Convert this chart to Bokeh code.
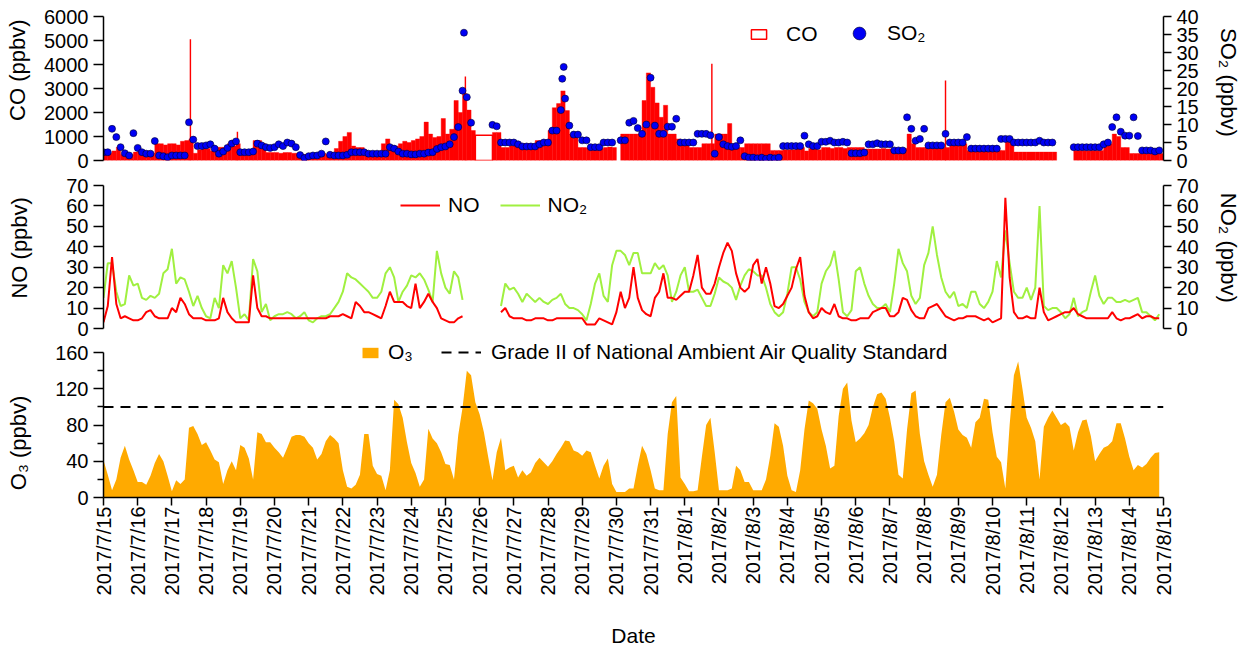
import math
import pandas as pd
from bokeh.plotting import figure
from bokeh.layouts import column
from bokeh.models import (Range1d, LinearAxis, FixedTicker, Legend, LegendItem,
                          ColumnDataSource)
from bokeh.embed import file_html
from bokeh.resources import INLINE

nan = float("nan")

# ---------------------------------------------------------------------------
# Data: 3-hourly values, 2017-07-15 00:00 to 2017-08-14 21:00 (8 values a day)
# ---------------------------------------------------------------------------
START = pd.Timestamp("2017-07-15")
END = pd.Timestamp("2017-08-15")
times = pd.date_range(START, periods=248, freq="3h")

co = [  # ppbv
    300, 300, 400, 550, 250, 200, 250, 350,      # 7/15
    400, 400, 400, 300, 700, 700, 650, 700,      # 7/16
    700, 650, 800, 830, 900, 300, 450, 500,      # 7/17
    500, 400, 550, 550, 540, 700, 600, 700,      # 7/18
    400, 400, 400, 830, 830, 700, 330, 330,      # 7/19
    330, 300, 330, 330, 300, 300, 250, 250,      # 7/20
    200, 250, 250, 300, 250, 300, 500, 800,      # 7/21
    1000, 1170, 600, 540, 540, 400, 330, 330,    # 7/22
    350, 700, 900, 500, 600, 700, 800, 750,      # 7/23
    830, 900, 1000, 1600, 1100, 960, 1000, 1750,  # 7/24
    1100, 1300, 2500, 2000, 2780, 2100, 1250, nan,  # 7/25
    nan, nan, nan, 1170, 1170, 540, 540, 600,    # 7/26
    700, 700, 700, 700, 650, 830, 830, 800,      # 7/27
    1250, 2200, 2370, 2900, 2080, 1100, 1000, 540,  # 7/28
    540, 520, 540, 540, 500, 540, 560, 540,      # 7/29
    nan, 1100, 1100, 1100, 1100, 1100, 2500, 3650,  # 7/30
    3050, 2400, 1800, 2300, 1100, 1100, 900, 830,  # 7/31
    830, 540, 540, 540, 700, 700, 700, 1100,     # 8/1
    1100, 1100, 1540, 540, 540, 540, 700, 700,   # 8/2
    700, 700, 700, 700, 420, 420, 420, 450,      # 8/3
    450, 450, 540, 540, 400, 500, 540, 450,      # 8/4
    540, 540, 500, 540, 540, 500, 540, 540,      # 8/5
    540, 540, 480, 480, 480, 480, 500, 480,      # 8/6
    480, 450, 480, 500, 1100, 700, 540, 540,     # 8/7
    540, 540, 540, 540, 540, 540, 700, 700,      # 8/8
    700, 700, 420, 420, 420, 420, 420, 420,      # 8/9
    420, 420, 420, 830, 830, 350, 350, 350,      # 8/10
    350, 350, 350, 350, 350, 350, 350, nan,      # 8/11
    nan, nan, nan, 420, 420, 420, 420, 420,      # 8/12
    420, 420, 700, 700, 1100, 1000, 540, 540,    # 8/13
    290, 290, 290, 290, 290, 290, 290, 290,      # 8/14
]

# single-hour CO peaks
co_peak_time = ["2017-07-17 13:00", "2017-07-18 22:00", "2017-07-25 14:00",
                "2017-08-01 19:00", "2017-08-08 15:00"]
co_peak_value = [5050, 1200, 3500, 4030, 3330]

# period with an averaged CO value only (drawn as an open bar)
co_avg_start = "2017-07-25 21:00"
co_avg_end = "2017-07-26 09:00"
co_avg_value = 1050

so2 = [  # ppbv
    2.3, 2.3, 8.8, 6.5, 3.7, 2.0, 1.4, 7.6,      # 7/15
    3.5, 2.3, 1.9, 1.9, 5.4, 1.4, 1.2, 0.9,      # 7/16
    1.4, 1.4, 1.4, 1.4, 10.6, 5.8, 4.0, 4.0,     # 7/17
    4.2, 4.5, 3.3, 1.9, 2.5, 3.5, 4.7, 5.3,      # 7/18
    2.3, 2.3, 2.3, 2.5, 4.7, 4.2, 3.7, 3.5,      # 7/19
    3.7, 4.5, 4.0, 5.0, 4.7, 3.7, 1.5, 0.7,      # 7/20
    1.2, 1.4, 1.4, 1.9, 5.3, 1.6, 1.4, 1.4,      # 7/21
    1.4, 1.6, 2.3, 2.3, 2.3, 2.3, 1.9, 1.9,      # 7/22
    1.9, 1.9, 1.9, 3.7, 3.3, 2.5, 1.9, 1.9,      # 7/23
    1.7, 1.7, 1.9, 1.9, 2.2, 2.3, 3.2, 3.7,      # 7/24
    3.9, 4.5, 6.5, 9.3, 19.4, 17.6, 10.5, nan,   # 7/25
    nan, nan, nan, 9.9, 9.5, 5.0, 5.0, 5.0,      # 7/26
    5.0, 4.5, 3.9, 3.9, 3.9, 3.9, 4.5, 5.0,      # 7/27
    5.0, 8.3, 8.3, 14.0, 17.2, 9.7, 7.2, 7.2,    # 7/28
    5.6, 5.6, 3.7, 3.7, 3.7, 5.0, 5.0, 5.0,      # 7/29
    nan, 5.6, 5.6, 10.5, 11.0, 9.0, 7.4, 10.0,   # 7/30
    23.0, 9.7, 7.4, 7.4, 9.4, 9.4, 11.6, 5.0,    # 7/31
    5.0, 5.0, 5.0, 7.4, 7.4, 7.4, 7.0, 1.9,      # 8/1
    6.5, 4.5, 4.0, 3.8, 4.0, 5.6, 1.2, 0.8,      # 8/2
    0.8, 0.6, 0.8, 0.5, 0.8, 0.6, 0.8, 4.0,      # 8/3
    4.0, 4.0, 4.0, 4.0, 6.9, 4.5, 4.0, 4.0,      # 8/4
    5.2, 5.2, 5.5, 5.0, 5.0, 5.2, 5.0, 2.0,      # 8/5
    2.0, 2.0, 2.2, 4.5, 4.5, 4.8, 4.5, 4.5,      # 8/6
    4.5, 2.8, 2.8, 2.8, 12.0, 8.8, 5.5, 6.0,     # 8/7
    8.8, 4.2, 4.2, 4.2, 4.2, 7.4, 5.0, 5.0,      # 8/8
    5.0, 5.0, 6.5, 3.3, 3.3, 3.3, 3.3, 3.3,      # 8/9
    3.3, 3.3, 6.0, 6.0, 6.0, 5.0, 5.0, 5.0,      # 8/10
    5.0, 5.0, 5.0, 5.5, 5.0, 5.0, 5.0, nan,      # 8/11
    nan, nan, nan, 3.7, 3.7, 3.7, 3.7, 3.7,      # 8/12
    3.7, 3.7, 4.5, 5.0, 9.3, 12.0, 8.0, 6.9,     # 8/13
    6.9, 12.0, 6.8, 2.8, 2.8, 2.8, 2.5, 2.8,     # 8/14
]

# single-hour SO2 peaks
so2_peak_time = ["2017-07-25 13:00", "2017-07-28 10:00", "2017-07-28 11:00"]
so2_peak_value = [35.5, 22.7, 26.0]

no = [  # ppbv
    3, 11, 35, 12, 5, 6, 5, 4,          # 7/15
    4, 5, 8, 9, 6, 5, 5, 5,             # 7/16
    10, 8, 15, 12, 7, 5, 5, 5,          # 7/17
    4, 4, 4, 5, 15, 8, 5, 3,            # 7/18
    3, 3, 3, 26, 10, 6, 6, 5,           # 7/19
    5, 5, 5, 5, 5, 5, 5, 5,             # 7/20
    5, 5, 5, 5, 5, 6, 6, 6,             # 7/21
    7, 6, 5, 13, 11, 8, 8, 7,           # 7/22
    6, 5, 11, 18, 13, 13, 13, 11,       # 7/23
    10, 22, 10, 13, 17, 13, 10, 5,      # 7/24
    4, 3, 3, 5, 6, nan, nan, nan,       # 7/25
    nan, nan, nan, nan, nan, 8, 10, 6,  # 7/26
    5, 5, 5, 4, 4, 5, 5, 5,             # 7/27
    4, 4, 5, 5, 5, 5, 5, 5,             # 7/28
    5, 2, 2, 2, 5, 4, 3, 2,             # 7/29
    8, 18, 10, 15, 30, 15, 9, 7,        # 7/30
    6, 15, 18, 27, 15, 15, 14, 16,      # 7/31
    18, 18, 26, 36, 20, 17, 17, 22,     # 8/1
    30, 37, 42, 38, 27, 20, 18, 20,     # 8/2
    31, 34, 22, 30, 22, 11, 10, 12,     # 8/3
    16, 20, 29, 35, 16, 8, 5, 6,        # 8/4
    10, 8, 7, 12, 6, 5, 5, 4,           # 8/5
    4, 5, 5, 5, 8, 9, 10, 10,           # 8/6
    6, 6, 8, 15, 14, 9, 6, 5,           # 8/7
    5, 10, 11, 12, 9, 6, 5, 4,          # 8/8
    5, 5, 6, 6, 6, 5, 4, 5,             # 8/9
    3, 4, 5, 64, 25, 8, 5, 5,           # 8/10
    6, 5, 5, 20, 8, 4, 5, 6,            # 8/11
    7, 8, 8, 10, 7, 6, 5, 5,            # 8/12
    5, 5, 5, 5, 8, 5, 4, 5,             # 8/13
    5, 6, 7, 5, 6, 6, 5, 5,             # 8/14
]

no2 = [  # ppbv
    15, 32, 32, 18, 11, 12, 26, 21,     # 7/15
    22, 15, 14, 16, 15, 17, 27, 29,     # 7/16
    39, 22, 25, 24, 18, 11, 16, 10,     # 7/17
    6, 5, 15, 10, 31, 27, 33, 20,       # 7/18
    5, 7, 4, 34, 28, 8, 12, 4,          # 7/19
    6, 7, 7, 8, 7, 5, 6, 8,             # 7/20
    4, 3, 5, 6, 6, 7, 10, 13,           # 7/21
    18, 27, 25, 24, 22, 20, 18, 15,     # 7/22
    15, 18, 27, 30, 25, 13, 18, 21,     # 7/23
    26, 25, 27, 24, 19, 13, 38, 27,     # 7/24
    20, 17, 28, 25, 14, nan, nan, nan,  # 7/25
    nan, nan, nan, nan, nan, 11, 22, 19,  # 7/26
    20, 17, 13, 17, 15, 13, 15, 13,     # 7/27
    12, 14, 15, 17, 12, 10, 10, 9,      # 7/28
    7, 4, 12, 22, 27, 16, 13, 31,       # 7/29
    38, 38, 36, 31, 37, 37, 27, 27,     # 7/30
    27, 32, 29, 31, 26, 13, 18, 26,     # 7/31
    30, 18, 18, 19, 15, 11, 11, 17,     # 8/1
    25, 23, 22, 20, 14, 21, 26, 29,     # 8/2
    28, 26, 26, 20, 12, 8, 6, 8,        # 8/3
    17, 30, 30, 24, 13, 8, 6, 8,        # 8/4
    22, 28, 31, 38, 24, 8, 6, 9,        # 8/5
    28, 30, 22, 16, 12, 10, 10, 12,     # 8/6
    8, 22, 39, 32, 28, 16, 12, 15,      # 8/7
    31, 37, 50, 36, 25, 18, 15, 18,     # 8/8
    11, 12, 10, 18, 18, 12, 10, 13,     # 8/9
    18, 33, 25, 48, 32, 18, 15, 15,     # 8/10
    20, 14, 20, 60, 11, 9, 10, 10,      # 8/11
    8, 5, 7, 15, 6, 8, 9, 18,           # 8/12
    26, 16, 12, 15, 15, 13, 13, 14,     # 8/13
    13, 14, 15, 8, 8, 6, 4, 7,          # 8/14
]

o3 = [  # ppbv
    41, 25, 8, 20, 44, 57, 42, 30,        # 7/15
    17, 17, 14, 24, 38, 48, 40, 24,       # 7/16
    7, 19, 15, 20, 77, 79, 70, 58,        # 7/17
    61, 52, 42, 39, 15, 30, 40, 30,       # 7/18
    58, 55, 43, 20, 72, 70, 61, 61,       # 7/19
    55, 50, 44, 55, 67, 69, 69, 67,       # 7/20
    60, 55, 42, 48, 62, 69, 65, 60,       # 7/21
    30, 12, 10, 14, 25, 70, 70, 35,       # 7/22
    26, 24, 8, 30, 108, 103, 88, 61,      # 7/23
    38, 27, 12, 20, 76, 65, 60, 50,       # 7/24
    37, 36, 20, 69, 99, 140, 135, 105,    # 7/25
    92, 72, 45, 19, 50, 66, 30, 33,       # 7/26
    35, 22, 30, 24, 28, 38, 44, 39,       # 7/27
    34, 40, 48, 55, 63, 62, 52, 50,       # 7/28
    46, 52, 50, 35, 21, 35, 43, 15,       # 7/29
    6, 6, 6, 10, 10, 35, 57, 48,          # 7/30
    30, 10, 8, 8, 70, 105, 112, 22,       # 7/31
    15, 7, 7, 8, 45, 80, 88, 50,          # 8/1
    8, 8, 8, 10, 35, 30, 17, 17,          # 8/2
    8, 8, 8, 20, 46, 82, 78, 57,          # 8/3
    24, 8, 6, 30, 75, 107, 104, 98,       # 8/4
    75, 57, 32, 35, 90, 120, 127, 85,     # 8/5
    61, 65, 71, 80, 100, 114, 116, 109,   # 8/6
    88, 62, 25, 21, 75, 115, 118, 70,     # 8/7
    40, 25, 12, 25, 69, 105, 110, 95,     # 8/8
    75, 69, 66, 55, 83, 88, 109, 108,     # 8/9
    72, 45, 39, 10, 80, 135, 150, 120,    # 8/10
    88, 77, 62, 20, 78, 88, 96, 88,       # 8/11
    80, 83, 78, 52, 72, 85, 86, 68,       # 8/12
    40, 48, 55, 57, 62, 82, 82, 65,       # 8/13
    45, 30, 36, 33, 37, 44, 49, 50,       # 8/14
]

o3_standard = 100  # Grade II limit, ppbv

tick_dates = pd.date_range(START, END, freq="D")
tick_labels = [f"{d.year}/{d.month}/{d.day}" for d in tick_dates]

# ---------------------------------------------------------------------------
# Helpers
# ---------------------------------------------------------------------------
FONT = "Liberation Sans"
RED = "#FF0000"
BLUE = "#0000F5"
GREEN = "#A0F040"
ORANGE = "#FFAA00"
NBSP = "\u00a0"


def days(ts):
    """Fractional days since the start of the record."""
    return list((pd.DatetimeIndex(ts) - START) / pd.Timedelta(days=1))


def padded(text, lead=0, trail=0):
    """Axis label with non-breaking spaces to nudge it along the axis."""
    return NBSP * lead + text + NBSP * trail


t = days(times)
step = 3 / 24
x_range = Range1d(days([START])[0], days([END])[0])


def make_fig(frame_h, top, bottom, y0, y1):
    p = figure(frame_width=1060, frame_height=frame_h, x_range=x_range,
               y_range=Range1d(y0, y1), output_backend="svg",
               toolbar_location=None, x_axis_location=None,
               y_axis_location=None, min_border_left=103,
               min_border_right=88, min_border_top=top,
               min_border_bottom=bottom)
    p.outline_line_color = None
    p.background_fill_color = "white"
    p.border_fill_color = "white"
    p.grid.grid_line_color = None
    return p


def style_axis(ax, label, label_standoff, tick_out=10):
    ax.axis_label = label
    ax.axis_label_text_font = FONT
    ax.axis_label_text_font_size = "22px"
    ax.axis_label_text_font_style = "normal"
    ax.axis_label_text_color = "black"
    ax.axis_label_standoff = label_standoff
    ax.major_label_text_font = FONT
    ax.major_label_text_font_size = "20px"
    ax.major_label_text_color = "black"
    ax.major_label_standoff = 5
    ax.axis_line_color = "black"
    ax.axis_line_width = 1.5
    ax.major_tick_line_color = "black"
    ax.major_tick_line_width = 1.5
    ax.major_tick_out = tick_out
    ax.major_tick_in = 0
    ax.minor_tick_out = 0
    ax.minor_tick_in = 0


def style_legend(leg, glyph_w, glyph_h, standoff, spacing=0):
    leg.orientation = "horizontal"
    leg.border_line_color = None
    leg.background_fill_alpha = 0
    leg.padding = 0
    leg.margin = 0
    leg.spacing = spacing
    leg.glyph_width = glyph_w
    leg.glyph_height = glyph_h
    leg.label_standoff = standoff
    leg.label_text_font = FONT
    leg.label_text_font_size = "21px"
    leg.label_text_color = "black"


# ---------------------------------------------------------------------------
# Panel 1: CO bars and SO2 points
# ---------------------------------------------------------------------------
p1 = make_fig(144, 16, 10, 0, 6000)
p1.extra_y_ranges = {"so2": Range1d(0, 40)}

co_src = ColumnDataSource(dict(x=[v + step / 2 for v in t], top=co))
p1.vbar(x="x", top="top", width=step, bottom=0, source=co_src,
        fill_color=RED, line_color=RED, line_width=0.4)
p1.vbar(x=days(co_peak_time), top=co_peak_value, width=1 / 24, bottom=0,
        fill_color=RED, line_color=None)
r_co = p1.quad(left=days([co_avg_start]), right=days([co_avg_end]),
               bottom=[0], top=[co_avg_value], fill_color="white",
               line_color=RED, line_width=1.5)
r_so2 = p1.scatter(x=t, y=so2, y_range_name="so2", size=7,
                   fill_color=BLUE, line_color="#000030", line_width=0.6)
p1.scatter(x=days(so2_peak_time), y=so2_peak_value, y_range_name="so2",
           size=7, fill_color=BLUE, line_color="#000030", line_width=0.6)

ax = LinearAxis(ticker=FixedTicker(ticks=list(range(0, 6001, 1000))))
style_axis(ax, padded("CO (ppbv)", lead=6), 11)
p1.add_layout(ax, "left")
ax = LinearAxis(y_range_name="so2",
                ticker=FixedTicker(ticks=list(range(0, 41, 5))))
style_axis(ax, padded("SO\u2082 (ppbv)", trail=2), 14, tick_out=8)
p1.add_layout(ax, "right")

leg = Legend(items=[LegendItem(label="CO", renderers=[r_co])],
             location=(646, 114))
style_legend(leg, 19, 12, 18)
p1.add_layout(leg)
leg = Legend(items=[LegendItem(label="SO\u2082", renderers=[r_so2])],
             location=(740, 111))
style_legend(leg, 32, 32, 12)
p1.add_layout(leg)

# ---------------------------------------------------------------------------
# Panel 2: NO and NO2
# ---------------------------------------------------------------------------
p2 = make_fig(143, 15, 11, 0, 70)
p2.extra_y_ranges = {"no2": Range1d(0, 70)}
r_no2 = p2.line(x=t, y=no2, y_range_name="no2", line_color=GREEN,
                line_width=2)
r_no = p2.line(x=t, y=no, line_color=RED, line_width=2)

ax = LinearAxis(ticker=FixedTicker(ticks=list(range(0, 71, 10))))
style_axis(ax, padded("NO (ppbv)", lead=3), 31)
p2.add_layout(ax, "left")
ax = LinearAxis(y_range_name="no2",
                ticker=FixedTicker(ticks=list(range(0, 71, 10))))
style_axis(ax, padded("NO\u2082 (ppbv)", trail=3), 14, tick_out=8)
p2.add_layout(ax, "right")

leg = Legend(items=[LegendItem(label="NO", renderers=[r_no]),
                    LegendItem(label="NO\u2082", renderers=[r_no2])],
             location=(297, 111))
style_legend(leg, 40, 20, 8, spacing=20)
p2.add_layout(leg)

# ---------------------------------------------------------------------------
# Panel 3: O3 and the air quality standard
# (frame reaches a little above 160 ppbv so the legend sits inside it)
# ---------------------------------------------------------------------------
O3_TOP = 160
p3 = make_fig(158, 0, 156, 0, O3_TOP * 158 / 145)
r_o3 = p3.varea(x=t, y1=0, y2=o3, fill_color=ORANGE)
r_std = p3.line(x=[x_range.start, x_range.end], y=[o3_standard] * 2,
                line_color="black", line_width=2, line_dash="10 7")

ax = LinearAxis(ticker=FixedTicker(ticks=[0, 40, 80, 120, 160],
                                   minor_ticks=[20, 60, 100, 140]),
                bounds=(0, O3_TOP))
style_axis(ax, padded("O\u2083 (ppbv)", trail=8), 21)
ax.minor_tick_out = 6
ax.minor_tick_line_color = "black"
ax.minor_tick_line_width = 1.5
p3.add_layout(ax, "left")

tick_pos = days(tick_dates)
ax = LinearAxis(ticker=FixedTicker(ticks=tick_pos))
style_axis(ax, "Date", 26, tick_out=8)
ax.axis_label_text_font_size = "21px"
ax.major_label_overrides = {pos: lab for pos, lab in zip(tick_pos, tick_labels)}
ax.major_label_orientation = math.pi / 2
ax.major_label_standoff = 1
p3.add_layout(ax, "below")

leg = Legend(items=[LegendItem(label="O\u2083", renderers=[r_o3])],
             location=(257, 133))
style_legend(leg, 20, 13, 8)
p3.add_layout(leg)
leg = Legend(items=[LegendItem(label="Grade II of National Ambient Air Quality Standard",
                               renderers=[r_std])],
             location=(338, 133))
style_legend(leg, 40, 20, 10)
p3.add_layout(leg)

layout = column(p1, p2, p3)
open("out.html", "w").write(file_html(layout, INLINE))
